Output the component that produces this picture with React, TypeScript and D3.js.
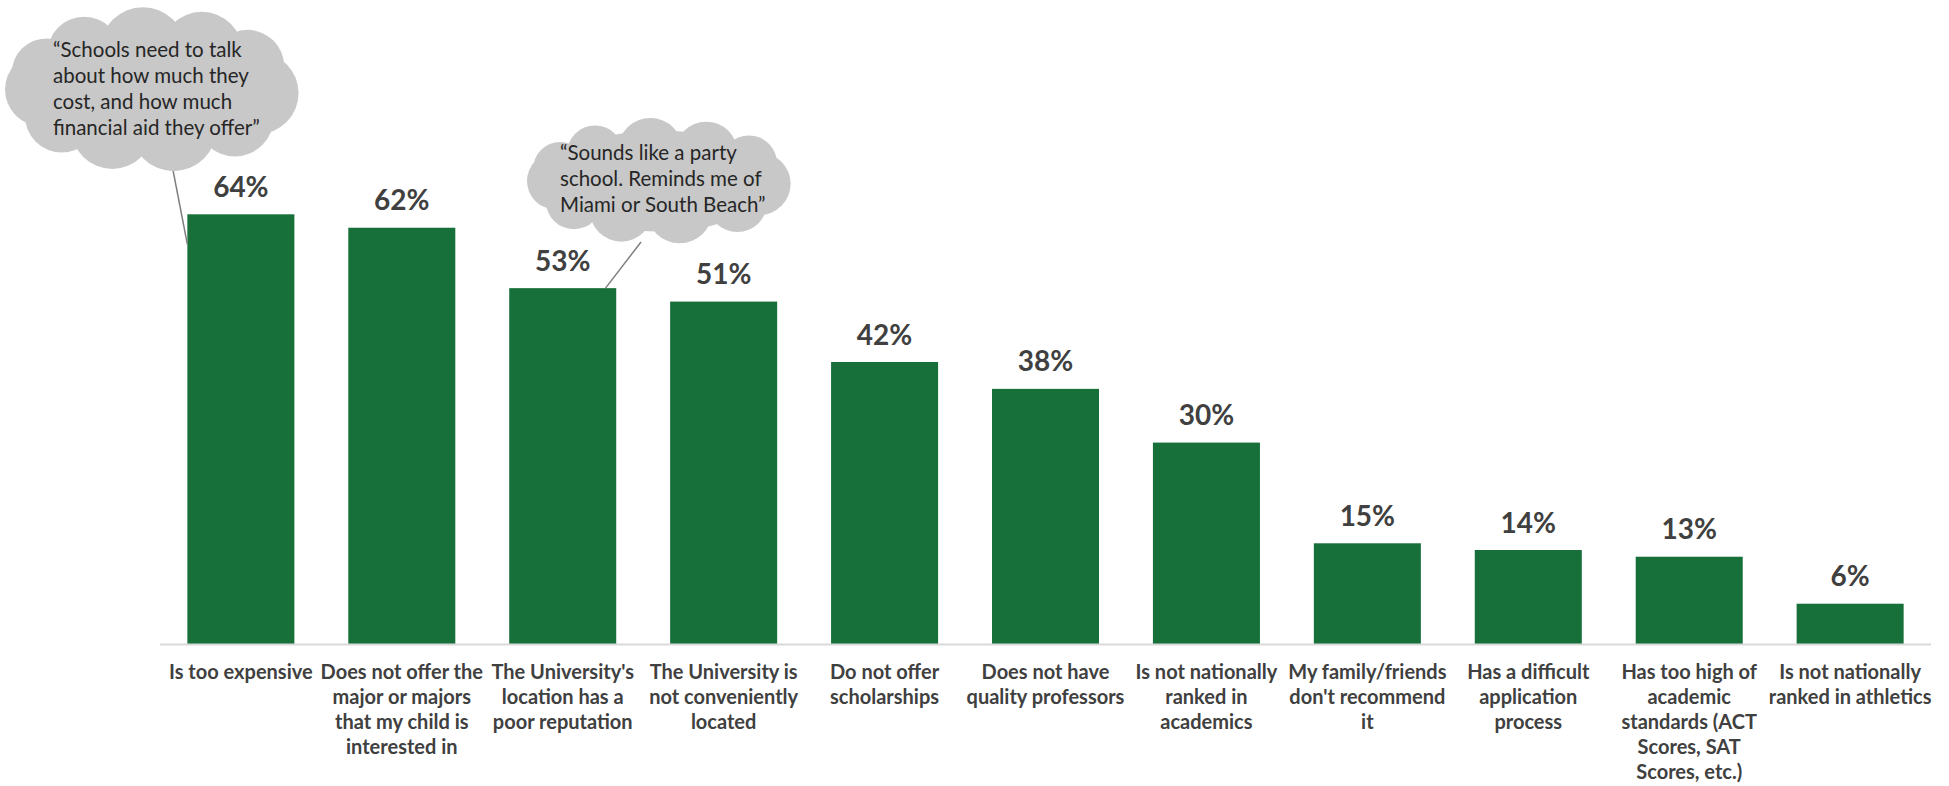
import React from "react";
import * as d3 from "d3";

const categories: string[][] = [
  ["Is too expensive"],
  ["Does not offer the", "major or majors", "that my child is", "interested in"],
  ["The University's", "location has a", "poor reputation"],
  ["The University is", "not conveniently", "located"],
  ["Do not offer", "scholarships"],
  ["Does not have", "quality professors"],
  ["Is not nationally", "ranked in", "academics"],
  ["My family/friends", "don't recommend", "it"],
  ["Has a difficult", "application", "process"],
  ["Has too high of", "academic", "standards (ACT", "Scores, SAT", "Scores, etc.)"],
  ["Is not nationally", "ranked in athletics"],
];

const values: number[] = [64, 62, 53, 51, 42, 38, 30, 15, 14, 13, 6];

const quote1: string[] = [
  "\u201CSchools need to talk",
  "about how much they",
  "cost, and how much",
  "financial aid they offer\u201D",
];
const quote2: string[] = [
  "\u201CSounds like a party",
  "school. Reminds me of",
  "Miami or South Beach\u201D",
];

const W = 1949;
const H = 786;
const FONT = "'Lato', 'Liberation Sans', sans-serif";
const GREEN = "#17703a";
const TEXT = "#404040";
const CLOUD = "#c8c8c8";

type Cloud = { x0: number; x1: number; y0: number; y1: number };

function cloudCircles(c: Cloud) {
  const cx = (c.x0 + c.x1) / 2;
  const cy = (c.y0 + c.y1) / 2;
  const rx = (c.x1 - c.x0) / 2;
  const ry = (c.y1 - c.y0) / 2;
  const bumps = [
    { a: -160, s: 0.34 },
    { a: -128, s: 0.36 },
    { a: -95, s: 0.42 },
    { a: -62, s: 0.4 },
    { a: -30, s: 0.36 },
    { a: 5, s: 0.4 },
    { a: 40, s: 0.38 },
    { a: 78, s: 0.42 },
    { a: 112, s: 0.4 },
    { a: 145, s: 0.36 },
    { a: 180, s: 0.36 },
  ];
  const out: { x: number; y: number; r: number }[] = [];
  bumps.forEach((b) => {
    const r = Math.min(rx, ry) * b.s * 2.0 * 0.62;
    const t = (b.a * Math.PI) / 180;
    out.push({
      x: cx + (rx - r) * Math.cos(t),
      y: cy + (ry - r) * Math.sin(t),
      r,
    });
  });
  return { cx, cy, rx, ry, circles: out };
}

function CloudShape({ c }: { c: Cloud }) {
  const g = cloudCircles(c);
  return (
    <g>
      <ellipse cx={g.cx} cy={g.cy} rx={g.rx * 0.85} ry={g.ry * 0.8} fill={CLOUD} />
      {g.circles.map((p, i) => (
        <circle key={i} cx={p.x} cy={p.y} r={p.r} fill={CLOUD} />
      ))}
    </g>
  );
}

export default function App() {
  const x = d3
    .scaleBand<number>()
    .domain(d3.range(values.length))
    .range([160, 1931])
    .paddingInner(0.335)
    .paddingOuter(0.17);
  const y = d3.scaleLinear().domain([0, 64]).range([644, 214.3]);

  const cloud1: Cloud = { x0: 5, x1: 299, y0: 7, y1: 172 };
  const cloud2: Cloud = { x0: 527, x1: 791, y0: 118, y1: 244 };

  return (
    <svg
      width={W}
      height={H}
      style={{ position: "absolute", left: 0, top: 0, background: "#fff" }}
      fontFamily={FONT}
    >
      {/* bars */}
      {values.map((v, i) => (
        <rect
          key={i}
          x={x(i)}
          y={y(v)}
          width={x.bandwidth()}
          height={y(0) - y(v)}
          fill={GREEN}
        />
      ))}
      {/* axis line */}
      <line x1={160} x2={1931} y1={y(0) + 0.5} y2={y(0) + 0.5} stroke="#d9d9d9" strokeWidth={2} />
      {/* value labels */}
      {values.map((v, i) => (
        <text
          key={i}
          x={(x(i) as number) + x.bandwidth() / 2}
          y={y(v) - 17.5}
          textAnchor="middle"
          fontSize={28}
          fontWeight="bold"
          fill={TEXT}
        >
          {`${v}%`}
        </text>
      ))}
      {/* category labels */}
      {categories.map((lines, i) => (
        <text
          key={i}
          textAnchor="middle"
          fontSize={20}
          fontWeight="bold"
          fill={TEXT}
        >
          {lines.map((l, j) => (
            <tspan key={j} x={(x(i) as number) + x.bandwidth() / 2} y={679.3 + j * 24.9}>
              {l}
            </tspan>
          ))}
        </text>
      ))}
      {/* callout connectors */}
      <line
        x1={172}
        y1={165}
        x2={x(0) as number}
        y2={y(values[0]) + 30}
        stroke="#7f7f7f"
        strokeWidth={1.5}
      />
      <line
        x1={641}
        y1={242}
        x2={(x(2) as number) + x.bandwidth() * 0.9}
        y2={y(values[2])}
        stroke="#7f7f7f"
        strokeWidth={1.5}
      />
      {/* clouds */}
      <CloudShape c={cloud1} />
      <CloudShape c={cloud2} />
      <text fontSize={20.5} fill="#262626">
        {quote1.map((l, j) => (
          <tspan key={j} x={53} y={56.7 + j * 26.1}>
            {l}
          </tspan>
        ))}
      </text>
      <text fontSize={20.5} fill="#262626">
        {quote2.map((l, j) => (
          <tspan key={j} x={560} y={160 + j * 25.9}>
            {l}
          </tspan>
        ))}
      </text>
    </svg>
  );
}
